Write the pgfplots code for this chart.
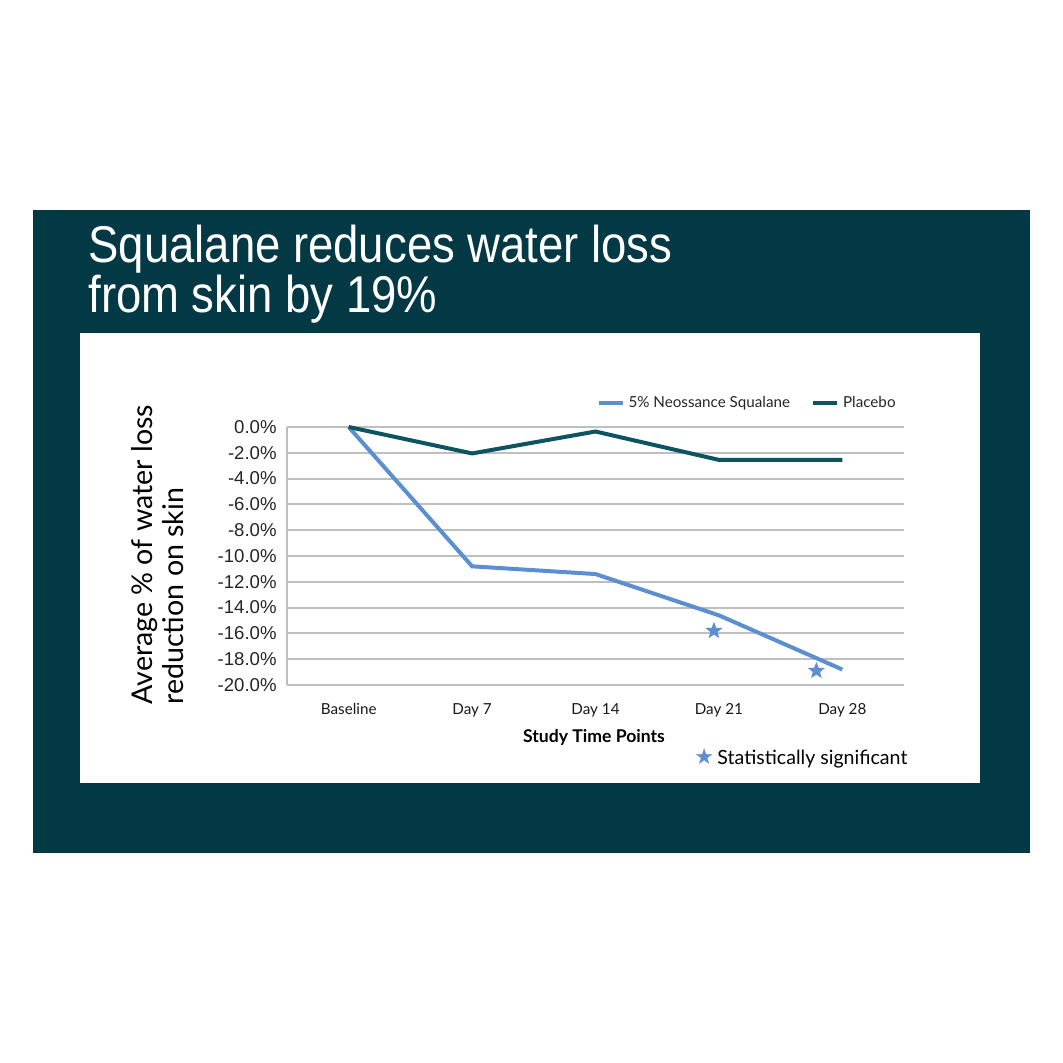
\documentclass[border=0pt]{standalone}
\usepackage{pgfplots}
\pgfplotsset{compat=1.18}
\usepackage{fontspec}
\usepackage{graphicx}
\setmainfont{Lato}
\newfontfamily\arialfont{Liberation Sans}
\newfontfamily\symfont{DejaVu Sans}

\definecolor{panel}{HTML}{023945}
\definecolor{placebo}{HTML}{0D5360}
\definecolor{sqblue}{HTML}{5B8FCF}

% filled five-point star
\pgfdeclareplotmark{fstar}{%
  \pgfpathmoveto{\pgfpointpolar{90}{\pgfplotmarksize}}%
  \pgfpathlineto{\pgfpointpolar{126}{0.42\pgfplotmarksize}}%
  \pgfpathlineto{\pgfpointpolar{162}{\pgfplotmarksize}}%
  \pgfpathlineto{\pgfpointpolar{198}{0.42\pgfplotmarksize}}%
  \pgfpathlineto{\pgfpointpolar{234}{\pgfplotmarksize}}%
  \pgfpathlineto{\pgfpointpolar{270}{0.42\pgfplotmarksize}}%
  \pgfpathlineto{\pgfpointpolar{306}{\pgfplotmarksize}}%
  \pgfpathlineto{\pgfpointpolar{342}{0.42\pgfplotmarksize}}%
  \pgfpathlineto{\pgfpointpolar{18}{\pgfplotmarksize}}%
  \pgfpathlineto{\pgfpointpolar{54}{0.42\pgfplotmarksize}}%
  \pgfpathclose\pgfusepathqfill}

\begin{document}
\begin{tikzpicture}[x=0.5pt,y=0.5pt]
% page, panel, white card (1 unit = 1 px of the 1063 px reference)
\fill[white] (0,0) rectangle (1063,1063);
\fill[panel] (33,210) rectangle (1030,853);
\fill[white] (80,280) rectangle (980,730);

% title, one node of two lines (base = baseline of the last line)
\node[anchor=base west, inner sep=0pt, align=left, text=white, font=\arialfont\fontsize{25.85}{22.5}\selectfont]
  at (88,750) {\scalebox{0.88}[1]{Squalane reduces water loss}\\\scalebox{0.88}[1]{from skin by 19\%}};

\begin{axis}[
  at={(143.5pt,189pt)}, anchor=south west,
  scale only axis, width=308.5pt, height=129pt,
  xmin=-0.5, xmax=4.5, ymin=-20, ymax=0,
  xtick={0,1,2,3,4},
  xticklabels={Baseline,Day 7,Day 14,Day 21,Day 28},
  ytick={-20,-18,...,0},
  yticklabels={-20.0\%,-18.0\%,-16.0\%,-14.0\%,-12.0\%,-10.0\%,-8.0\%,-6.0\%,-4.0\%,-2.0\%,0.0\%},
  axis lines*=left,
  axis line style={gray!50, line width=1pt},
  ymajorgrids, grid style={gray!50, line width=1pt},
  major tick length=0pt,
  yticklabel style={font=\arialfont\fontsize{9.3}{10}\selectfont, text=black!85, inner sep=0pt, xshift=-5pt},
  xticklabel style={font=\fontsize{7.6}{9}\selectfont, text=black!90, inner sep=0pt, yshift=-9pt},
  legend style={at={(0.9935,1.093)}, anchor=east, draw=none, fill=none, inner sep=0pt,
    legend columns=2, font=\fontsize{7.6}{9}\selectfont, text=black!85,
    /tikz/every even column/.append style={column sep=8.5pt},
    /tikz/every odd column/.append style={column sep=0pt}},
  legend image code/.code={\draw[#1] (0pt,0pt) -- (12pt,0pt);},
  clip=false,
]
\addplot[sqblue, line width=2pt] coordinates {(0,0) (1,-10.8) (2,-11.4) (3,-14.6) (4,-18.8)};
\addplot[placebo, line width=2pt] coordinates {(0,0) (1,-2.05) (2,-0.35) (3,-2.55) (4,-2.55)};
\addplot[only marks, mark=fstar, mark size=4.5pt, sqblue, forget plot] coordinates {(2.96,-15.8) (3.79,-18.9)};
\legend{5\% Neossance Squalane, Placebo}
\end{axis}

% axis title and y label
\node[anchor=base, font=\bfseries\fontsize{8.8}{10}\selectfont] at (594,320) {Study Time Points};
\node[rotate=90, anchor=west, align=left, inner sep=0pt, font=\fontsize{14.3}{15.5}\selectfont] at (158,358)
  {Average \% of water loss\\reduction on skin};

% significance note
\node[anchor=base west, inner sep=0pt, font=\fontsize{9.8}{11}\selectfont] at (694,298)
  {{\symfont\fontsize{11}{11}\selectfont\color{sqblue}★}\,Statistically significant};
\end{tikzpicture}
\end{document}
